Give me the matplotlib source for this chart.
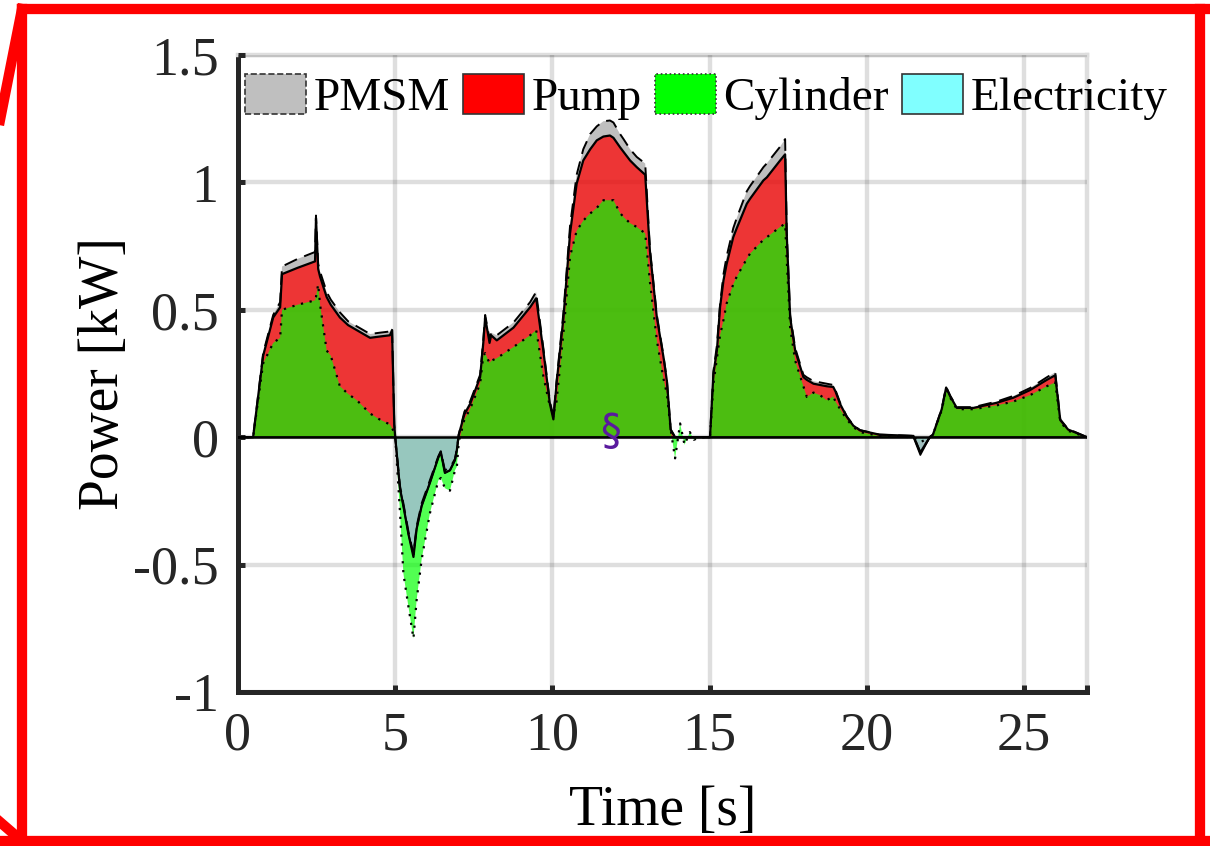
import numpy as np
import matplotlib
matplotlib.use("Agg")
import matplotlib.pyplot as plt
from matplotlib.patches import Patch
from matplotlib.lines import Line2D

# time axis [s] and power of each part [kW]
t = [0.00, 0.48, 0.80, 1.12, 1.34, 1.40, 1.90, 2.45, 2.48, 2.55, 2.61, 2.82, 2.95, 3.24, 3.50,
     3.78, 4.20, 4.50, 4.83, 4.90, 4.97, 5.00, 5.15, 5.26, 5.42, 5.58, 5.68, 5.84, 6.10, 6.37,
     6.45, 6.58, 6.74, 6.90, 6.96, 7.02, 7.20, 7.38, 7.70, 7.80, 7.86, 8.00, 8.05, 8.23, 8.76,
     9.29, 9.48, 9.50, 9.71, 9.92, 10.03, 10.13, 10.35, 10.56, 10.77, 10.98, 11.20, 11.41, 11.62, 11.83,
     11.94, 12.15, 12.26, 12.47, 12.68, 12.95, 13.10, 13.32, 13.53, 13.64, 13.76, 13.90, 14.06, 14.20, 14.37,
     14.50, 14.70, 15.01, 15.12, 15.23, 15.33, 15.44, 15.54, 15.75, 15.86, 16.18, 16.28, 16.71, 16.82, 17.24,
     17.40, 17.45, 17.56, 17.72, 17.98, 18.09, 18.30, 18.51, 18.72, 18.93, 19.00, 19.15, 19.36, 19.57, 19.78,
     20.40, 21.48, 21.70, 22.00, 22.10, 22.38, 22.52, 22.65, 22.86, 23.39, 24.13, 24.66, 25.19, 25.72, 25.99,
     26.15, 26.40, 26.80, 27.00]

cylinder = [0.0, 0.0, 0.29, 0.37, 0.39, 0.50, 0.52, 0.537, 0.55, 0.60, 0.52, 0.34, 0.32, 0.20, 0.17,
            0.145, 0.093, 0.07, 0.05, 0.035, 0.02, 0.0, -0.29, -0.535, -0.665, -0.79, -0.64, -0.48, -0.30, -0.17,
            -0.16, -0.20, -0.21, -0.13, -0.116, -0.02, 0.07, 0.11, 0.21, 0.32, 0.33, 0.29, 0.30, 0.31, 0.354,
            0.40, 0.42, 0.41, 0.24, 0.12, 0.09, 0.14, 0.41, 0.71, 0.81, 0.85, 0.878, 0.90, 0.93, 0.93,
            0.93, 0.88, 0.864, 0.84, 0.825, 0.80, 0.61, 0.38, 0.23, 0.17, 0.03, -0.083, 0.054, -0.03, 0.02,
            -0.01, 0.0, 0.0, 0.21, 0.31, 0.40, 0.46, 0.525, 0.60, 0.63, 0.70, 0.72, 0.775, 0.785, 0.825,
            0.838, 0.70, 0.43, 0.30, 0.20, 0.158, 0.175, 0.165, 0.145, 0.16, 0.14, 0.11, 0.07, 0.04, 0.02,
            0.005, 0.0, -0.02, 0.0, 0.01, 0.106, 0.19, 0.155, 0.11, 0.11, 0.125, 0.14, 0.165, 0.20, 0.215,
            0.06, 0.025, 0.008, 0.0]

pump = [0.0, 0.0, 0.32, 0.47, 0.51, 0.64, 0.665, 0.69, 0.86, 0.66, 0.63, 0.55, 0.52, 0.47, 0.44,
        0.42, 0.39, 0.395, 0.40, 0.42, 0.05, 0.0, -0.20, -0.27, -0.38, -0.47, -0.36, -0.27, -0.18, -0.08,
        -0.058, -0.14, -0.13, -0.09, -0.05, 0.01, 0.09, 0.13, 0.236, 0.37, 0.47, 0.37, 0.40, 0.38, 0.43,
        0.51, 0.545, 0.53, 0.34, 0.13, 0.07, 0.21, 0.47, 0.80, 0.995, 1.086, 1.13, 1.165, 1.18, 1.184,
        1.175, 1.138, 1.12, 1.086, 1.06, 1.03, 0.73, 0.47, 0.315, 0.22, 0.03, 0.0, 0.0, 0.0, 0.0,
        0.0, 0.0, 0.0, 0.25, 0.34, 0.51, 0.616, 0.68, 0.785, 0.82, 0.916, 0.935, 1.008, 1.02, 1.086,
        1.11, 0.80, 0.47, 0.34, 0.236, 0.225, 0.21, 0.205, 0.20, 0.197, 0.18, 0.13, 0.08, 0.045, 0.027,
        0.01, 0.005, -0.06, 0.0, 0.01, 0.11, 0.195, 0.16, 0.115, 0.115, 0.135, 0.155, 0.185, 0.225, 0.243,
        0.067, 0.03, 0.01, 0.0]

pmsm = [0.0, 0.0, 0.33, 0.48, 0.53, 0.67, 0.70, 0.727, 0.87, 0.68, 0.65, 0.57, 0.54, 0.49, 0.455,
        0.435, 0.405, 0.41, 0.415, 0.43, 0.05, 0.0, -0.19, -0.26, -0.37, -0.46, -0.35, -0.26, -0.17, -0.075,
        -0.055, -0.13, -0.12, -0.085, -0.045, 0.01, 0.10, 0.14, 0.245, 0.38, 0.48, 0.385, 0.41, 0.40, 0.45,
        0.53, 0.57, 0.55, 0.35, 0.14, 0.08, 0.22, 0.49, 0.83, 1.03, 1.13, 1.19, 1.22, 1.24, 1.243,
        1.235, 1.19, 1.17, 1.13, 1.10, 1.074, 0.74, 0.48, 0.32, 0.225, 0.03, 0.0, 0.0, 0.0, 0.0,
        0.0, 0.0, 0.0, 0.26, 0.36, 0.52, 0.64, 0.71, 0.82, 0.86, 0.965, 0.985, 1.06, 1.075, 1.14,
        1.17, 0.81, 0.48, 0.35, 0.245, 0.235, 0.22, 0.215, 0.21, 0.205, 0.185, 0.135, 0.082, 0.047, 0.028,
        0.01, 0.005, -0.06, 0.0, 0.01, 0.112, 0.198, 0.163, 0.118, 0.118, 0.14, 0.162, 0.193, 0.235, 0.255,
        0.07, 0.032, 0.011, 0.0]

electricity = [0.0, 0.0, 0.0, 0.0, 0.0, 0.0, 0.0, 0.0, 0.0, 0.0, 0.0, 0.0, 0.0, 0.0, 0.0,
               0.0, 0.0, 0.0, 0.0, 0.0, 0.0, 0.0, -0.20, -0.27, -0.38, -0.46, -0.36, -0.27, -0.18, -0.08,
               -0.058, -0.14, -0.13, -0.09, -0.05, 0.0, 0.0, 0.0, 0.0, 0.0, 0.0, 0.0, 0.0, 0.0, 0.0,
               0.0, 0.0, 0.0, 0.0, 0.0, 0.0, 0.0, 0.0, 0.0, 0.0, 0.0, 0.0, 0.0, 0.0, 0.0,
               0.0, 0.0, 0.0, 0.0, 0.0, 0.0, 0.0, 0.0, 0.0, 0.0, 0.0, 0.0, 0.0, 0.0, 0.0,
               0.0, 0.0, 0.0, 0.0, 0.0, 0.0, 0.0, 0.0, 0.0, 0.0, 0.0, 0.0, 0.0, 0.0, 0.0,
               0.0, 0.0, 0.0, 0.0, 0.0, 0.0, 0.0, 0.0, 0.0, 0.0, 0.0, 0.0, 0.0, 0.0, 0.0,
               0.0, 0.0, -0.07, 0.0, 0.0, 0.0, 0.0, 0.0, 0.0, 0.0, 0.0, 0.0, 0.0, 0.0, 0.0,
               0.0, 0.0, 0.0, 0.0]

labels = ["PMSM", "Pump", "Cylinder", "Electricity"]

t = np.array(t)
cylinder = np.array(cylinder)
pump = np.array(pump)
pmsm = np.array(pmsm)
electricity = np.array(electricity)

W, H = 1210, 846
fig = plt.figure(figsize=(W / 100, H / 100), dpi=100)
ax = fig.add_axes([238 / W, 1 - 692 / H, (1087 - 238) / W, (692 - 55) / H])

serif = "Liberation Serif"
dark = "#262626"

# filled areas, drawn back to front
ax.fill_between(t, 0, pmsm, facecolor="#BFBFBF", edgecolor="none", zorder=2)
ax.fill_between(t, 0, pump, facecolor="#FF0000", alpha=0.72, edgecolor="none", zorder=3)
ax.fill_between(t, 0, cylinder, facecolor="#00FF00", alpha=0.68, edgecolor="none", zorder=4)
ax.fill_between(t, 0, electricity, facecolor="#9CC8C8", alpha=0.95, edgecolor="none", zorder=5)

# outlines
ax.plot(t, pmsm, color="k", lw=1.4, ls=(0, (7, 4)), zorder=6)
ax.plot(t, pump, color="k", lw=1.6, zorder=6)
ax.plot(t, cylinder, color="k", lw=1.6, ls=(0, (1, 3)), zorder=6)
ax.plot(t, electricity, color="k", lw=1.2, zorder=6)
ax.axhline(0, color="k", lw=1.8, zorder=6)

ax.text(11.85, 0.02, "\u00a7", color="#5A1A9E", fontsize=30, family="DejaVu Sans",
        ha="center", va="center", zorder=7)

ax.set_xlim(0, 27)
ax.set_ylim(-1, 1.5)
ax.set_xticks([0, 5, 10, 15, 20, 25])
ax.set_xticks([27], minor=True)
ax.set_yticks([-1, -0.5, 0, 0.5, 1, 1.5])
ax.set_yticklabels(["-1", "-0.5", "0", "0.5", "1", "1.5"])

ax.grid(True, color=dark, alpha=0.15, lw=3.2)
ax.set_axisbelow(False)
ax.tick_params(which="both", direction="in", length=5, width=3.6, color=dark,
               labelsize=39, labelcolor=dark, pad=14)
for lab in ax.get_xticklabels() + ax.get_yticklabels():
    lab.set_family(serif)

for side in ["left", "bottom"]:
    ax.spines[side].set_color(dark)
    ax.spines[side].set_linewidth(3.6)
for side in ["top", "right"]:
    ax.spines[side].set_color("#DEDEDE")
    ax.spines[side].set_linewidth(3.2)

ax.set_xlabel("Time [s]", fontsize=40, family=serif, color="k")
ax.set_ylabel("Power [kW]", fontsize=40, family=serif, color="k")
ax.xaxis.set_label_coords(0.5, -0.146)
ax.yaxis.set_label_coords(-0.127, 0.5)

handles = [
    Patch(facecolor="#BFBFBF", edgecolor="#333333", linestyle="--", lw=1.2),
    Patch(facecolor="#FF0000", edgecolor="#333333", lw=1.2),
    Patch(facecolor="#00FF00", edgecolor="#333333", linestyle=":", lw=1.2),
    Patch(facecolor="#80FFFF", edgecolor="#333333", lw=1.2),
]
fig.legend(handles, labels, loc="upper left", bbox_to_anchor=(245 / W, 1 - 74 / H),
           ncol=4, frameon=False, borderpad=0, handlelength=1.3, handleheight=0.92,
           handletextpad=0.15, columnspacing=0.28, borderaxespad=0,
           prop={"family": serif, "size": 34})

# red callout frame round the figure
red_lines = [
    [(0, 120), (22, 9)],
    [(22, 9), (1210, 9)],
    [(1200, 9), (1200, 846)],
    [(0, 841), (1210, 841)],
    [(22, 9), (22, 841)],
    [(0, 822), (22, 841)],
]
for seg in red_lines:
    xs = [p[0] / W for p in seg]
    ys = [1 - p[1] / H for p in seg]
    fig.add_artist(Line2D(xs, ys, color="#FF0000", lw=7.4, transform=fig.transFigure,
                          solid_capstyle="projecting"))

fig.savefig("out.png", dpi=100)
